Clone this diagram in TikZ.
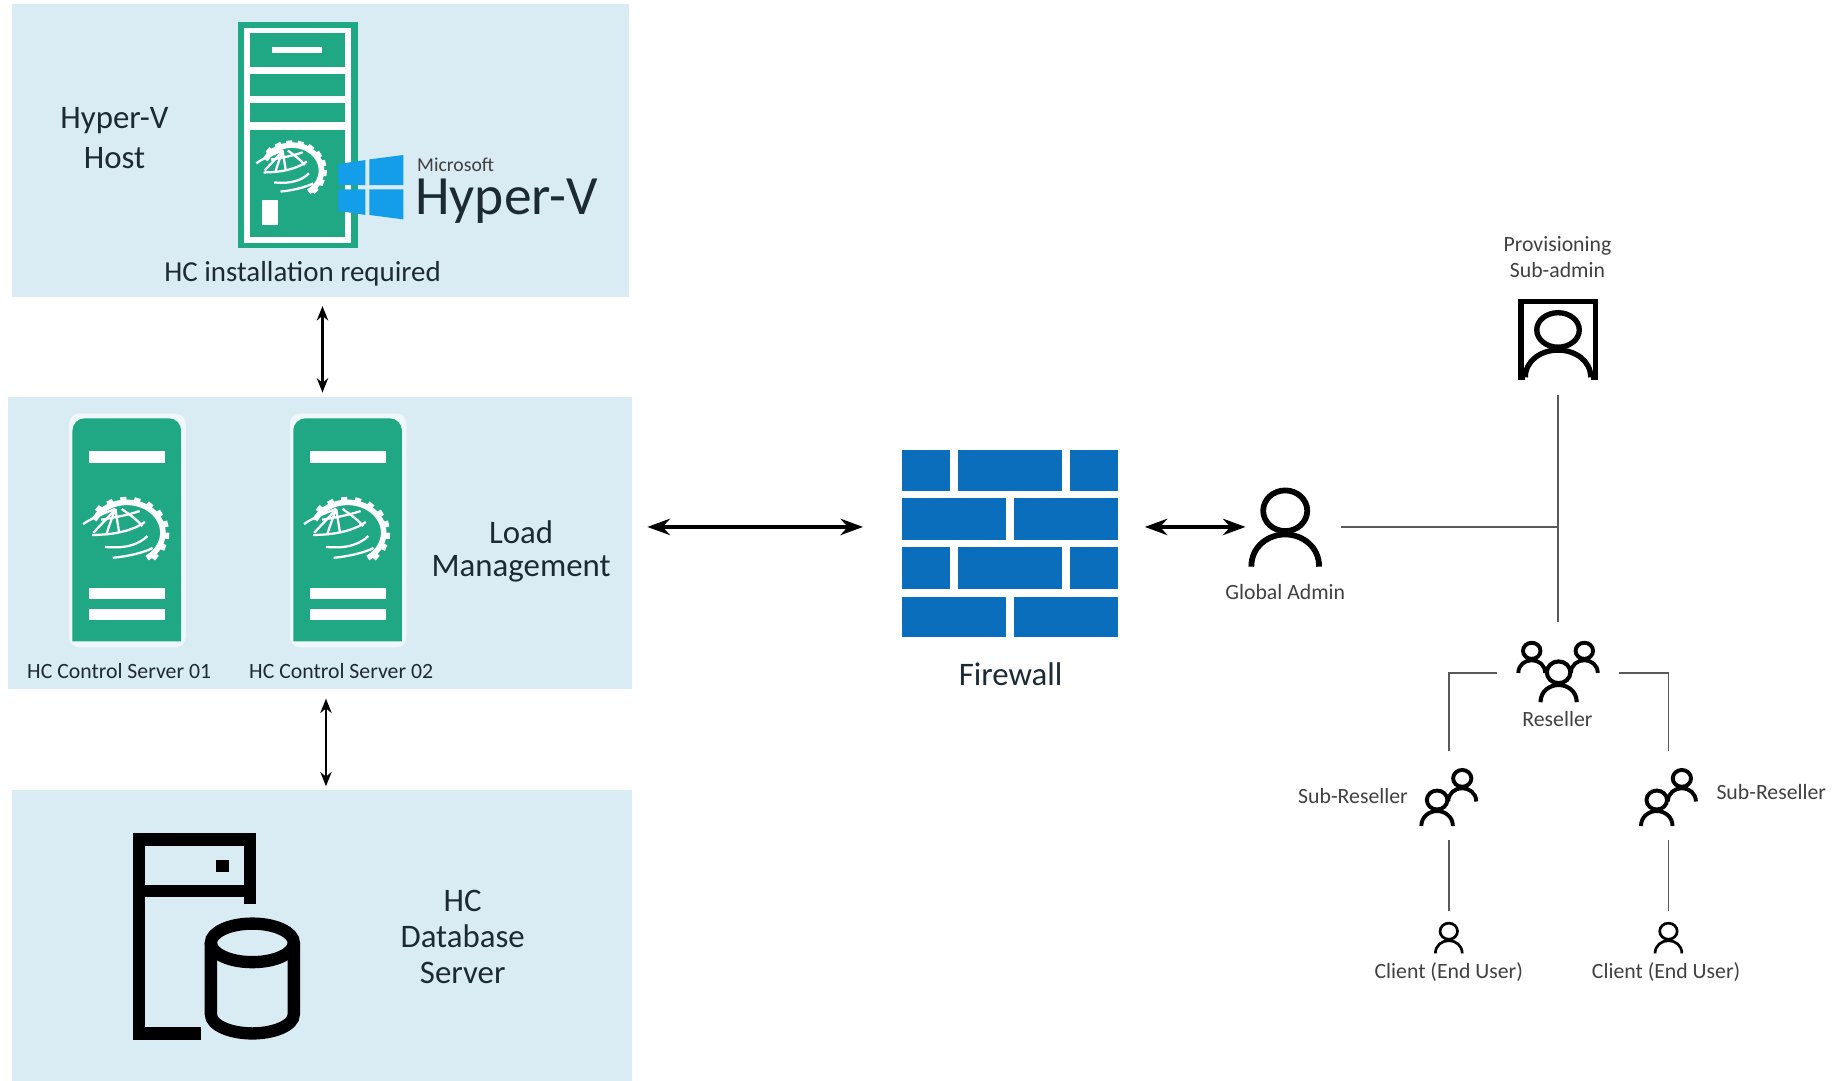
\documentclass[tikz,border=0pt]{standalone}
\usepackage{fontspec}
\setmainfont{Carlito}
\usetikzlibrary{arrows.meta,calc}
\definecolor{boxblue}{HTML}{D9EBF3}
\definecolor{hcgreen}{HTML}{20A885}
\definecolor{wallblue}{HTML}{0A6EBD}
\definecolor{winblue}{HTML}{149DE8}
\definecolor{linkgray}{HTML}{595959}
\definecolor{labelgray}{HTML}{404040}
\definecolor{labeldark}{HTML}{1C2A33}
\tikzset{
	zonebox/.style={fill=boxblue,minimum width=10.6cm,minimum height=5cm,inner sep=0pt,outer sep=0pt},
	iconspot/.style={inner sep=0pt,outer sep=0pt},
	biglabel/.style={text=labeldark,align=center,font=\fontsize{16}{17.5}\selectfont},
	smalllabel/.style={text=labelgray,align=center,font=\fontsize{10.6}{12.5}\selectfont},
	darklabel/.style={text=labeldark,font=\fontsize{10.6}{12.5}\selectfont},
	thinlink/.style={<->,>={Stealth[length=7pt,width=5.5pt]},line width=1.1pt,black},
	widelink/.style={<->,>={Stealth[length=11pt,width=8pt]},line width=1.6pt,black},
	orglink/.style={linkgray,line width=.8pt},
	hcgear/.pic={
		\draw[white,line width=2.7pt] (205:28) arc (205:416:28);
		\foreach \a in {225,245,...,405}
			\draw[white,line width=3pt] (\a:29) -- (\a:33);
		\draw[white,line width=1.1pt] (-17,13) .. controls (0,15) and (10,10) .. (16,3);
		\draw[white,line width=1.1pt] (-11,23) .. controls (0,22) and (14,18) .. (20,14);
		\draw[white,line width=1.1pt] (-27,2) .. controls (-10,2) and (5,-2) .. (14,-10);
		\draw[white,line width=1.1pt] (-9,-22) .. controls (-20,-17) and (-28,-13) .. (-34,-8);
		\draw[white,line width=1.1pt] (-9,-22) .. controls (-16,-12) and (-20,-8) .. (-26,0);
		\draw[white,line width=1.1pt] (-9,-22) .. controls (-12,-12) and (-14,-6) .. (-16,2);
		\draw[white,line width=1.1pt] (-9,-22) -- (-6,0);
		\draw[white,line width=1.1pt] (-4,-22) .. controls (4,-15) and (8,-12) .. (12,-6);
		\draw[white,line width=1.1pt] (-20,-12) .. controls (-10,-14) and (0,-16) .. (10,-20);
	},
	ctrlserver/.pic={
		\fill[white,opacity=.6,rounded corners=5] (59,554) rectangle (159,354);
		\fill[hcgreen] (62,549) [rounded corners=6] -- (62,358) -- (155,358) [sharp corners] -- (155,549) -- cycle;
		\foreach \y/\h in {386/10,503/9.5,521.5/9.5}
			\fill[white] (76,\y) rectangle (141.5,\y+\h);
		\pic[xscale=1.1,yscale=.93] at (108.6,456) {hcgear};
	},
	person/.pic={
		\draw[fill=white] (0,-1.65) ellipse (.65 and .6);
		\draw (-1,0) .. controls (-1,-.6) and (-.5,-.95) .. (0,-.95) .. controls (.5,-.95) and (1,-.6) .. (1,0);
	},
}
\begin{document}
\begin{tikzpicture}[x=.02cm,y=-.02cm]
	\useasboundingbox (0,0) rectangle (1568,925);

	\node[zonebox,minimum width=10.56cm,minimum height=5.02cm] (hostbox) at (274,128.5) {};
	\node[zonebox,minimum width=10.68cm,minimum height=5cm] (loadbox) at (274,465) {};
	\node[zonebox,minimum width=10.62cm,minimum height=4.98cm] (dbbox) at (275.5,800.5) {};

	\fill[hcgreen] (204,18.5) rectangle (306,212.5);
	\fill[white] (209,24) rectangle (300.5,208);
	\foreach \y/\b in {28.5/57,63.3/82,88.5/104,111/203}
		\fill[hcgreen] (214,\y) rectangle (295,\b);
	\fill[white] (233,40.5) rectangle (276,45.6);
	\fill[white] (224,171) rectangle (238,193);
	\pic[xscale=.9,yscale=.78] at (250,146) {hcgear};

	\fill[winblue] (289.3,140.4) -- (312.7,137) -- (312.7,158.4) -- (289.3,158.4) -- cycle;
	\fill[winblue] (316.2,136.4) -- (345.2,132.7) -- (345.2,158.4) -- (316.2,158.4) -- cycle;
	\fill[winblue] (289.3,162.1) -- (312.7,162.1) -- (312.7,184) -- (289.3,180.4) -- cycle;
	\fill[winblue] (316.2,162.1) -- (345.2,162.1) -- (345.2,187.8) -- (316.2,184) -- cycle;

	\node[inner sep=0pt,text=labelgray,font=\fontsize{9.6}{11}\selectfont] (mslabel) at (390,141) {Microsoft};
	\node[anchor=base,inner sep=0pt,text=labeldark,font=\fontsize{27}{30}\selectfont] (hypervlogo) at (433.5,184) {Hyper-V};
	\node[biglabel,font=\fontsize{16}{19.3}\selectfont] (hostlabel) at (98,118) {Hyper-V\\Host};
	\node[biglabel,font=\fontsize{14.1}{17}\selectfont] (hostnote) at (259,234) {HC installation required};

	\pic at (0,0) {ctrlserver};
	\pic at (189,0) {ctrlserver};
	\node[darklabel] (ctrlone) at (102,574) {HC Control Server 01};
	\node[darklabel] (ctrltwo) at (292,574) {HC Control Server 02};
	\node[biglabel,font=\fontsize{16}{16.5}\selectfont] (loadlabel) at (446,472) {Load\\Management};

	\draw[line width=6pt,line join=miter] (214,774) -- (214,718.4) -- (119.2,718.4) -- (119.2,884.5) -- (172,884.5);
	\draw[line width=6pt] (119.2,762.7) -- (214,762.7);
	\fill (185,735.7) rectangle (196,746.3);
	\draw[line width=6pt] (216,807) ellipse (35.5 and 16.5);
	\draw[line width=6pt] (180.5,807) -- (180.5,868) .. controls (180.5,878) and (198,884.5) .. (216,884.5) .. controls (234,884.5) and (251.5,878) .. (251.5,868) -- (251.5,807);
	\node[biglabel] (dblabel) at (396,802) {HC\\Database\\Server};

	\foreach \xa/\xb/\y/\b in {772/813.4/385.3/420,820/909/385.3/420,915.6/957/385.3/420,772/860.7/426.6/461.9,867.9/957/426.6/461.9,772/813.4/468.5/503.9,820/909/468.5/503.9,915.6/957/468.5/503.9,772/860.7/510.8/545,867.9/957/510.8/545}
		\fill[wallblue] (\xa,\y) rectangle (\xb,\b);
	\node[iconspot,minimum width=3.7cm,minimum height=3.2cm] (firewall) at (864.5,465) {};
	\node[biglabel] (firelabel) at (865,577) {Firewall};

	\pic[line width=2.8pt,scale=29] at (1100,485) {person};
	\node[iconspot,minimum width=1.64cm,minimum height=1.4cm] (globaladmin) at (1107,451) {};
	\node[smalllabel] (globallabel) at (1100,507) {Global Admin};

	\draw[line width=2.8pt] (1305.5,323) -- (1301.5,323) -- (1301.5,258) -- (1365.5,258) -- (1365.5,323) -- (1361.5,323);
	\pic[line width=2.6pt,xscale=28,yscale=24.6] at (1333.5,323) {person};
	\node[iconspot,minimum width=1.6cm,minimum height=1.88cm] (provisioning) at (1333.5,291) {};
	\node[smalllabel] (provlabel) at (1333,220) {Provisioning\\Sub-admin};

	\pic[line width=1.9pt,scale=11.5] at (1311,576) {person};
	\pic[line width=1.9pt,scale=11.5] at (1356,576) {person};
	\pic[line width=2pt,scale=15.5] at (1334,601) {person};
	\node[iconspot,minimum width=2.1cm,minimum height=1.76cm] (reseller) at (1333.5,576) {};
	\node[smalllabel] (resellerlabel) at (1333,615) {Reseller};

	\pic[line width=1.9pt,scale=12] at (1251.5,686) {person};
	\pic[line width=1.9pt,scale=13.5] at (1230,707) {person};
	\node[iconspot,minimum width=.6cm,minimum height=1.52cm] (subleft) at (1240,681) {};
	\node[smalllabel] (subleftlabel) at (1158,681) {Sub-Reseller};

	\pic[line width=1.9pt,scale=12] at (1439.5,686) {person};
	\pic[line width=1.9pt,scale=13.5] at (1418,707) {person};
	\node[iconspot,minimum width=.6cm,minimum height=1.52cm] (subright) at (1428,681) {};
	\node[smalllabel] (subrightlabel) at (1516,678) {Sub-Reseller};

	\pic[line width=1.3pt,scale=11.5] at (1240,816) {person};
	\node[iconspot,minimum width=.6cm,minimum height=1.2cm] (clientleft) at (1240,810) {};
	\node[smalllabel] (clientleftlabel) at (1240,832) {Client (End User)};

	\pic[line width=1.3pt,scale=11.5] at (1428,816) {person};
	\node[iconspot,minimum width=.6cm,minimum height=1.2cm] (clientright) at (1428,810) {};
	\node[smalllabel] (clientrightlabel) at (1426,832) {Client (End User)};

	\coordinate (linkrow) at (0,451);
	\coordinate (tee) at (1333.5,451);

	\draw[thinlink,shorten <=.16cm,shorten >=.08cm] ([xshift=.04cm]hostbox.south) -- ([xshift=.04cm]loadbox.north);
	\draw[thinlink,shorten <=.16cm,shorten >=.06cm] ([xshift=.1cm]loadbox.south) -- ([xshift=.1cm]loadbox.south |- dbbox.north);
	\draw[widelink,shorten <=7.5pt,shorten >=19pt] (loadbox.east |- linkrow) -- (firewall.west |- linkrow);
	\draw[widelink,shorten <=13pt] (firewall.east |- linkrow) -- (globaladmin.west);
	\draw[orglink] (globaladmin.east) -- (tee);
	\draw[orglink] (provisioning.south) -- (reseller.north);
	\draw[orglink] (reseller.west) -| (subleft.north);
	\draw[orglink] (reseller.east) -| (subright.north);
	\draw[orglink] (subleft.south) -- (clientleft.north);
	\draw[orglink] (subright.south) -- (clientright.north);
\end{tikzpicture}
\end{document}
